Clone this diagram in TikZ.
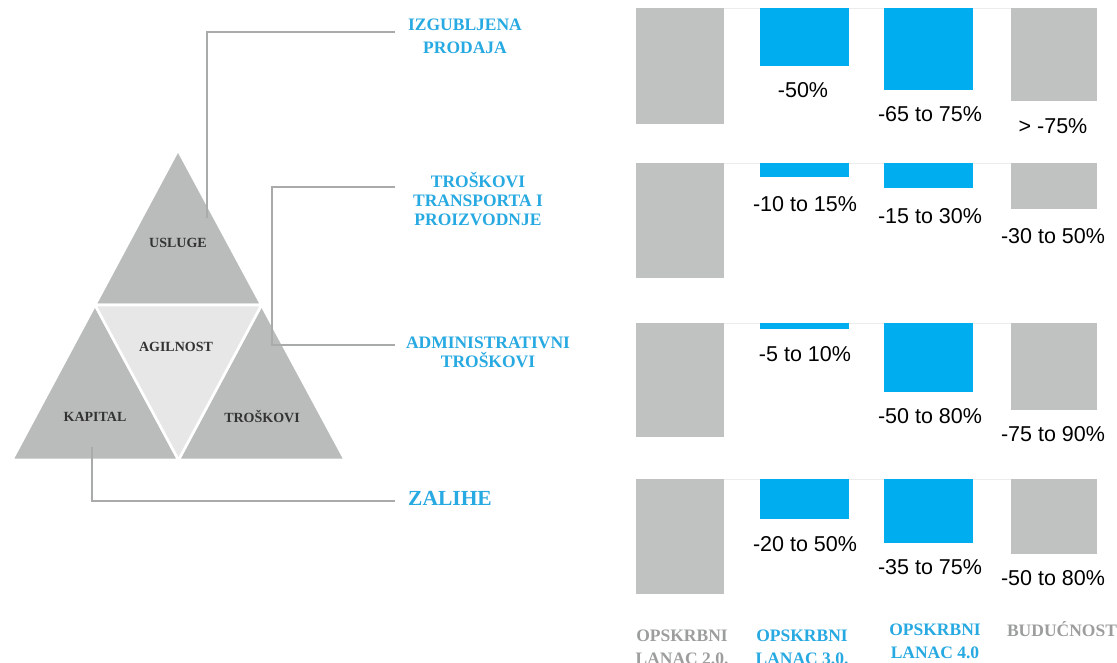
\documentclass[tikz,border=0pt]{standalone}
\usepackage{fontspec}
\setmainfont{Liberation Serif}
\newfontfamily\arialf{Liberation Sans}
\definecolor{trigray}{HTML}{B9BCBB}
\definecolor{midgray}{HTML}{E6E7E6}
\definecolor{bargray}{HTML}{BFC2C1}
\definecolor{barblue}{HTML}{00AEEF}
\definecolor{txtblue}{HTML}{27A9E1}
\definecolor{txtgray}{HTML}{9C9E9E}
\definecolor{linegray}{HTML}{A9ABAB}
\definecolor{basegray}{HTML}{EBECEC}
\definecolor{darktxt}{HTML}{333333}
\tikzset{
  tri/.style={fill=trigray, draw=white, line width=2.6pt, line join=miter},
  trimid/.style={fill=midgray, draw=white, line width=2.6pt, line join=miter},
  trilabel/.style={font=\bfseries\fontsize{14}{16}\selectfont, text=darktxt, inner sep=0pt},
  sidelabel/.style={font=\bfseries\fontsize{17.5}{19}\selectfont, text=txtblue, align=center, inner sep=0pt},
  conn/.style={draw=linegray, line width=1.1pt},
  pct/.style={font=\arialf\fontsize{21.5}{24}\selectfont, text=black, inner sep=0pt, anchor=base},
  collabel/.style={font=\bfseries\fontsize{17.5}{23}\selectfont, align=center, inner sep=0pt},
  baseline/.style={draw=basegray, line width=0.8pt}
}
\begin{document}
\begin{tikzpicture}[x=1pt,y=-1pt]
\useasboundingbox[fill=white] (0,0) rectangle (1117,662);
% ---------- triangle ----------
\coordinate (A) at (178,150);
\coordinate (B) at (12,460);
\coordinate (C) at (345,460);
\coordinate (AB) at (95,305);
\coordinate (AC) at (261.5,305);
\coordinate (BC) at (178.5,460);
\filldraw[tri] (A) -- (AB) -- (AC) -- cycle;
\filldraw[tri] (AB) -- (B) -- (BC) -- cycle;
\filldraw[tri] (AC) -- (BC) -- (C) -- cycle;
\filldraw[trimid] (AB) -- (AC) -- (BC) -- cycle;
\node[trilabel] (usluge) at (178,243) {USLUGE};
\node[trilabel] (agil) at (176,347) {AGILNOST};
\node[trilabel] (kapital) at (95,417) {KAPITAL};
\node[trilabel] (troskovi) at (262,417) {TROŠKOVI};
% ---------- side labels ----------
\node[sidelabel, font=\bfseries\fontsize{17.5}{23}\selectfont] (izg) at (465,36.5) {IZGUBLJENA\\PRODAJA};
\node[sidelabel] (trans) at (478,199) {TROŠKOVI\\TRANSPORTA I\\PROIZVODNJE};
\node[sidelabel] (admin) at (488,352.5) {ADMINISTRATIVNI\\TROŠKOVI};
\node[sidelabel, font=\bfseries\fontsize{21.5}{24}\selectfont] (zal) at (450,498) {ZALIHE};
% ---------- connectors ----------
\coordinate (u1) at (207,218);
\coordinate (e1) at (395,32);
\coordinate (t1) at (272,345);
\coordinate (e2) at (395,187);
\coordinate (e3) at (395,345);
\coordinate (k1) at (92,447);
\coordinate (e4) at (395,501);
\draw[conn] (u1) |- (e1);
\draw[conn] (e2) -| (t1) -- (e3);
\draw[conn] (k1) |- (e4);
% ---------- bars ----------
\foreach \t in {8,163,323,479} {\draw[baseline] (636,\t) -- (1097,\t);}
% row 1
\fill[bargray] (636,8) rectangle (724,124);
\fill[barblue] (760,8) rectangle (849,66);
\fill[barblue] (884,8) rectangle (973,90);
\fill[bargray] (1011,8) rectangle (1097,101);
% row 2
\fill[bargray] (636,163) rectangle (724,278);
\fill[barblue] (760,163) rectangle (849,177);
\fill[barblue] (884,163) rectangle (973,188);
\fill[bargray] (1011,163) rectangle (1097,209);
% row 3
\fill[bargray] (636,323) rectangle (724,437);
\fill[barblue] (760,323) rectangle (849,329);
\fill[barblue] (884,323) rectangle (973,392);
\fill[bargray] (1011,323) rectangle (1097,410);
% row 4
\fill[bargray] (636,479) rectangle (724,594);
\fill[barblue] (760,479) rectangle (849,519);
\fill[barblue] (884,479) rectangle (973,543);
\fill[bargray] (1011,479) rectangle (1097,554);
% ---------- percentage labels ----------
\node[pct] (p12) at (803,97) {-50\%};
\node[pct] (p13) at (930,121) {-65 to 75\%};
\node[pct] (p14) at (1053,133) {> -75\%};
\node[pct] (p22) at (805,211) {-10 to 15\%};
\node[pct] (p23) at (930,223) {-15 to 30\%};
\node[pct] (p24) at (1053,243) {-30 to 50\%};
\node[pct] (p32) at (805,361) {-5 to 10\%};
\node[pct] (p33) at (930,423) {-50 to 80\%};
\node[pct] (p34) at (1053,441) {-75 to 90\%};
\node[pct] (p42) at (805,551) {-20 to 50\%};
\node[pct] (p43) at (930,574) {-35 to 75\%};
\node[pct] (p44) at (1053,585) {-50 to 80\%};
% ---------- column labels (base = last line) ----------
\node[collabel, text=txtgray, anchor=base] (col1) at (682,664) {OPSKRBNI\\LANAC 2.0.};
\node[collabel, text=txtblue, anchor=base] (col2) at (802,664) {OPSKRBNI\\LANAC 3.0.};
\node[collabel, text=txtblue, anchor=base] (col3) at (935,658) {OPSKRBNI\\LANAC 4.0};
\node[collabel, text=txtgray, anchor=base] (col4) at (1062,636) {BUDUĆNOST};
\end{tikzpicture}
\end{document}
